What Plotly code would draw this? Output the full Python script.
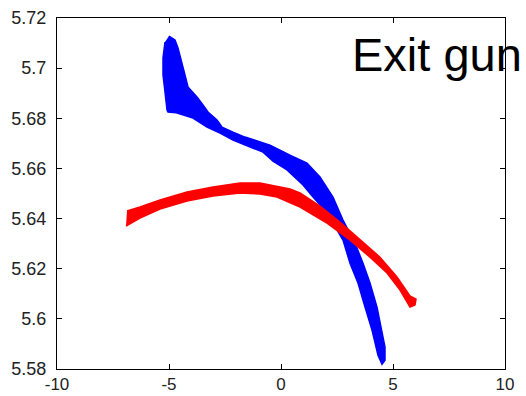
import plotly.graph_objects as go

# Beam envelopes at the gun exit (x offset vs. energy), outlined as filled bands.
# Blue cloud: upper/right boundary from the top tip down to the lower tip.
blue_upper_x = [-5.000, -4.732, -4.598, -4.420, -4.286, -4.152, -3.750, -3.482, -3.259,
                -2.857, -2.634, -2.143, -1.607, -1.161, -0.804, -0.491, 0.402, 1.161,
                1.741, 2.321, 2.768, 3.304, 3.661, 3.973, 4.286, 4.509, 4.643, 4.643, 4.509]
blue_upper_y = [5.7128, 5.7112, 5.7080, 5.7024, 5.6973, 5.6925, 5.6885, 5.6853, 5.6825,
                5.6793, 5.6765, 5.6745, 5.6725, 5.6713, 5.6701, 5.6693, 5.6653, 5.6621,
                5.6566, 5.6486, 5.6394, 5.6302, 5.6222, 5.6143, 5.6047, 5.5955, 5.5887, 5.5835, 5.5819]
# Blue cloud: lower/left boundary from the lower tip back up to the top.
blue_lower_x = [4.330, 4.062, 3.750, 3.437, 3.080, 2.768, 2.321, 1.830, 1.429, 0.982,
                0.268, -0.357, -0.804, -1.384, -2.143, -2.723, -3.304, -3.929, -4.375,
                -4.680, -5.045, -5.089, -5.179, -5.268, -5.268, -5.179]
blue_lower_y = [5.5855, 5.5955, 5.6047, 5.6143, 5.6222, 5.6314, 5.6382, 5.6446, 5.6486, 5.6534,
                5.6594, 5.6629, 5.6665, 5.6685, 5.6713, 5.6741, 5.6765, 5.6801, 5.6813,
                5.6822, 5.6825, 5.6833, 5.6905, 5.6973, 5.7040, 5.7104]

# Red cloud: upper boundary left to right, then lower boundary right to left.
red_upper_x = [-6.875, -6.295, -5.402, -4.196, -3.036, -1.830, -0.938, -0.179, 0.402,
               0.848, 1.741, 2.634, 3.527, 4.420, 5.179, 5.759, 6.027, 5.982]
red_upper_y = [5.6430, 5.6446, 5.6474, 5.6506, 5.6526, 5.6542, 5.6542, 5.6530, 5.6518,
               5.6502, 5.6450, 5.6386, 5.6314, 5.6246, 5.6167, 5.6091, 5.6079, 5.6055]
red_lower_x = [5.759, 5.313, 4.732, 3.973, 3.080, 2.054, 0.848, -0.179, -0.938, -1.830,
               -3.036, -4.196, -5.402, -6.295, -6.920]
red_lower_y = [5.6047, 5.6115, 5.6183, 5.6246, 5.6314, 5.6382, 5.6446, 5.6486, 5.6498, 5.6502,
               5.6490, 5.6470, 5.6438, 5.6402, 5.6370]

x_ticks = [-10, -5, 0, 5, 10]
x_tick_text = ["-10", "-5", "0", "5", "10"]
y_ticks = [5.58, 5.60, 5.62, 5.64, 5.66, 5.68, 5.70, 5.72]
y_tick_text = ["5.58", "5.6", "5.62", "5.64", "5.66", "5.68", "5.7", "5.72"]

label_text = "Exit gun"

fig = go.Figure()

fig.add_trace(go.Scatter(
    x=blue_upper_x + blue_lower_x, y=blue_upper_y + blue_lower_y,
    mode="lines", fill="toself", fillcolor="#0000ff",
    line=dict(color="#0000ff", width=1.5), hoverinfo="skip", showlegend=False))

fig.add_trace(go.Scatter(
    x=red_upper_x + red_lower_x, y=red_upper_y + red_lower_y,
    mode="lines", fill="toself", fillcolor="#ff0000",
    line=dict(color="#ff0000", width=1.5), hoverinfo="skip", showlegend=False))

fig.add_annotation(
    x=3.1, y=5.7055, xref="x", yref="y", text=label_text, showarrow=False,
    xanchor="left", yanchor="middle",
    font=dict(family="Liberation Sans, Arial, sans-serif", size=47, color="#000000"))

axis_common = dict(
    showline=True, linecolor="#000000", linewidth=1, mirror="ticks",
    ticks="inside", ticklen=5, tickcolor="#000000", showgrid=False, zeroline=False,
    automargin=False,
    tickfont=dict(family="Liberation Sans, Arial, sans-serif", size=18, color="#222222"))

fig.update_xaxes(range=[-10, 10], tickvals=x_ticks, ticktext=x_tick_text,
                 ticklabelstandoff=0, tickfont_size=17, **{k: v for k, v in axis_common.items() if k != "tickfont"},
                 tickfont_family="Liberation Sans, Arial, sans-serif", tickfont_color="#222222")
fig.update_yaxes(range=[5.58, 5.72], tickvals=y_ticks, ticktext=y_tick_text,
                 ticklabelstandoff=6, **axis_common)

fig.update_layout(
    width=526, height=396,
    margin=dict(l=57, r=21, t=18, b=27),
    paper_bgcolor="#ffffff", plot_bgcolor="#ffffff")

fig.write_html("out.html")
